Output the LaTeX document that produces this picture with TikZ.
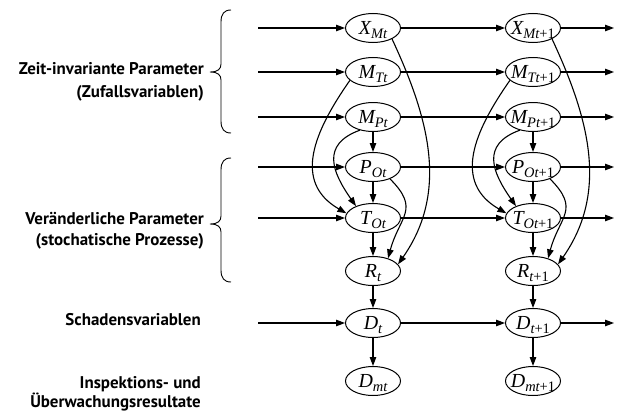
\documentclass[tikz,border=0pt]{standalone}
\usepackage{fontspec}
\setmainfont{PT Sans}
\newfontfamily\varfont{Liberation Serif}
\usetikzlibrary{arrows.meta,shapes.geometric}

% variable label: main letter, italic subscript, optional upright suffix
\newcommand{\varlab}[3]{\makebox[0pt]{\raisebox{-6.5bp}[0pt][0pt]{\varfont
  {\fontsize{20}{20}\selectfont\itshape #1}\raisebox{-4bp}{\fontsize{14.5}{14.5}\selectfont{\itshape #2}#3}}}}

\tikzset{
  var/.style={ellipse, draw, line width=1bp, minimum width=55bp, minimum height=29bp, inner sep=0pt},
  arr/.style={line width=1.1bp, -{Triangle[length=9bp,width=6.5bp]}},
  grouplabel/.style={anchor=east, align=right, font=\fontsize{17}{21}\selectfont\bfseries, inner sep=0pt},
  bracepath/.style={line width=0.9bp}
}

\begin{document}
\begin{tikzpicture}[x=1bp,y=1bp]
\useasboundingbox (0,0) rectangle (617,414);

% rows of the network (two time slices)
\foreach \c/\xx/\s in {1/373/, 2/533/+1} {
  \node[var] (XM\c) at (\xx,386) {\varlab{X}{Mt}{\s}};
  \node[var] (MT\c) at (\xx,342) {\varlab{M}{Tt}{\s}};
  \node[var] (MP\c) at (\xx,297) {\varlab{M}{Pt}{\s}};
  \node[var] (PO\c) at (\xx,247) {\varlab{P}{Ot}{\s}};
  \node[var] (TO\c) at (\xx,196) {\varlab{T}{Ot}{\s}};
  \node[var] (R\c)  at (\xx,143) {\varlab{R}{t}{\s}};
  \node[var] (D\c)  at (\xx,91)  {\varlab{D}{t}{\s}};
  \node[var] (DM\c) at (\xx,33)  {\varlab{D}{mt}{\s}};
}

% free ends of the horizontal (temporal) links
\foreach \r/\yy in {XM/386, MT/342, MP/297, PO/247, TO/196, D/91} {
  \coordinate (in\r) at (258,\yy);
  \coordinate (out\r) at (614,\yy);
  \draw[arr] (in\r) -- (\r1);
  \draw[arr] (\r1) -- (\r2);
  \draw[arr] (\r2) -- (out\r);
}

% dependencies within each time slice
\foreach \c in {1,2} {
  \draw[arr] (MP\c) -- (PO\c);
  \draw[arr] (PO\c) -- (TO\c);
  \draw[arr] (TO\c) -- (R\c);
  \draw[arr] (R\c) -- (D\c);
  \draw[arr] (D\c) -- (DM\c);
  \draw[arr] (XM\c.-30) to[out=-65, in=55] (R\c.15);
  \draw[arr] (PO\c.-35) to[out=-45, in=75, looseness=1.4] (R\c.40);
  \draw[arr] (MT\c.200) to[out=235, in=150, looseness=1.2] (TO\c.170);
  \draw[arr] (MP\c.225) to[out=200, in=125, looseness=1.4] (TO\c.145);
}

% group braces
\draw[bracepath] (231,404) .. controls (224,404) and (221,400) .. (221,392) -- (221,350)
  .. controls (221,345) and (218,342) .. (210,342)
  .. controls (218,342) and (221,339) .. (221,334) -- (221,293)
  .. controls (221,285) and (224,281) .. (231,281);
\draw[bracepath] (231,256) .. controls (224,256) and (221,252) .. (221,244) -- (221,198)
  .. controls (221,193) and (218,190) .. (210,190)
  .. controls (218,190) and (221,187) .. (221,182) -- (221,144)
  .. controls (221,136) and (224,132) .. (231,132);

% group labels
\node[grouplabel, font=\fontsize{17}{22.5}\selectfont\bfseries] (lab1) at (204,332) {Zeit-invariante Parameter\\(Zufallsvariablen)};
\node[grouplabel] (lab2) at (204,183) {Veränderliche Parameter\ \\(stochatische Prozesse)};
\node[grouplabel] (lab3) at (201,94) {Schadensvariablen};
\node[grouplabel, font=\fontsize{17}{19.5}\selectfont\bfseries] (lab4) at (201,20.5) {Inspektions- und\\Überwachungsresultate};
\end{tikzpicture}
\end{document}
